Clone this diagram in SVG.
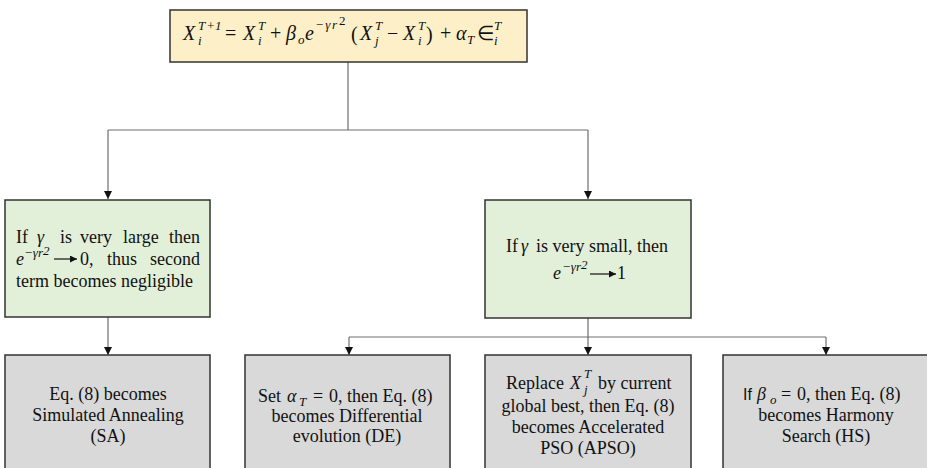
<svg xmlns="http://www.w3.org/2000/svg" width="927" height="468" viewBox="0 0 927 468">
<defs>
<marker id="ah" markerWidth="10" markerHeight="10" refX="8" refY="4" orient="auto" markerUnits="userSpaceOnUse">
<path d="M0,0 L8,4 L0,8 Z" fill="#111"/>
</marker>
<marker id="ta" markerWidth="10" markerHeight="8" refX="7" refY="3.5" orient="auto" markerUnits="userSpaceOnUse">
<path d="M0,0 L7,3.5 L0,7 Z" fill="#111"/>
</marker>
<style>
.box{stroke:#333;stroke-width:1.5}
.y{fill:#fdf0c8}
.g{fill:#e2efd9}
.gr{fill:#d9d9d9}
.t{font-family:"Liberation Serif","Times New Roman",serif;font-size:18px;fill:#111}
.i{font-style:italic}
.m{font-family:"Liberation Serif","Times New Roman",serif;font-style:italic;font-size:20px;fill:#111}
.mr{font-family:"Liberation Serif","Times New Roman",serif;font-size:20px;fill:#111}
.s{font-family:"Liberation Serif","Times New Roman",serif;font-style:italic;font-size:13px;fill:#111}
.sr{font-family:"Liberation Serif","Times New Roman",serif;font-size:13px;fill:#111}
.c{text-anchor:middle}
.conn{stroke:#6e6e6e;stroke-width:1.2;fill:none}
</style>
</defs>

<g id="connectors">
<path class="conn" d="M348,62 V130"/>
<path class="conn" d="M108,130 H588"/>
<path class="conn" d="M108,130 V199" marker-end="url(#ah)"/>
<path class="conn" d="M588,130 V199" marker-end="url(#ah)"/>
<path class="conn" d="M108,317 V355" marker-end="url(#ah)"/>
<path class="conn" d="M588,318 V337"/>
<path class="conn" d="M349,337 H826"/>
<path class="conn" d="M349,337 V355" marker-end="url(#ah)"/>
<path class="conn" d="M588,337 V355" marker-end="url(#ah)"/>
<path class="conn" d="M826,337 V355" marker-end="url(#ah)"/>
</g>

<g id="top">
<rect class="box y" x="170" y="10" width="357" height="52"/>
<text class="m" x="183" y="40">X</text>
<text class="s" x="198" y="45">i</text>
<text class="s" x="198" y="30">T<tspan class="sr" dx="1">+1</tspan></text>
<text class="mr" x="225" y="40">=</text>
<text class="m" x="243" y="40">X</text>
<text class="s" x="258" y="45">i</text>
<text class="s" x="258" y="30">T</text>
<text class="mr" x="270" y="40">+</text>
<text class="m" x="286" y="40">β</text>
<text class="s" x="298" y="44">o</text>
<text class="m" x="305" y="40">e</text>
<text class="s" x="315" y="29" letter-spacing="1.5">−γr</text>
<text class="sr" x="339" y="25" font-size="10">2</text>
<text class="mr" x="351" y="41" font-size="22">(</text>
<text class="m" x="360" y="40">X</text>
<text class="s" x="375" y="45">j</text>
<text class="s" x="375" y="30">T</text>
<text class="mr" x="387" y="40">−</text>
<text class="m" x="403" y="40">X</text>
<text class="s" x="418" y="45">i</text>
<text class="s" x="418" y="30">T</text>
<text class="mr" x="426" y="41" font-size="22">)</text>
<text class="mr" x="440" y="40">+</text>
<text class="m" x="456" y="40">α</text>
<text class="s" x="467" y="44">T</text>
<text class="mr" x="477" y="40" font-size="16">∈</text>
<text class="s" x="494" y="45">i</text>
<text class="s" x="494" y="30">T</text>
</g>

<g id="large">
<rect class="box g" x="5" y="200" width="205" height="117"/>
<text class="t" x="16" y="243">If</text>
<text class="t i" x="37" y="243">γ</text>
<text class="t" x="60" y="243">is</text>
<text class="t" x="80" y="243">very</text>
<text class="t" x="123" y="243">large</text>
<text class="t" x="200" y="243" text-anchor="end">then</text>
<text class="t i" x="16" y="265">e</text>
<text class="s" x="24" y="257">−γr<tspan class="sr" dy="-2" font-size="11">2</tspan></text>
<path d="M54,259 H77" stroke="#111" stroke-width="1.2" marker-end="url(#ta)"/>
<text class="t" x="80" y="265">0,</text>
<text class="t" x="107" y="265">thus</text>
<text class="t" x="200" y="265" text-anchor="end">second</text>
<text class="t" x="16" y="287">term becomes negligible</text>
</g>

<g id="small">
<rect class="box g" x="485" y="200" width="206" height="118"/>
<text class="t" x="506" y="252">If</text>
<text class="t i" x="521" y="252">γ</text>
<text class="t" x="536" y="252">is very small, then</text>
<text class="t i" x="553" y="279">e</text>
<text class="s" x="562" y="271">−γr<tspan class="sr" dy="-2" font-size="11">2</tspan></text>
<path d="M590,274 H616" stroke="#111" stroke-width="1.2" marker-end="url(#ta)"/>
<text class="t" x="617" y="279">1</text>
</g>

<g id="sa">
<rect class="box gr" x="5" y="355" width="205" height="120"/>
<text class="t c" x="108" y="400">Eq. (8) becomes</text>
<text class="t c" x="108" y="421">Simulated Annealing</text>
<text class="t c" x="108" y="442">(SA)</text>
</g>

<g id="de">
<rect class="box gr" x="245" y="355" width="205" height="120"/>
<text class="t" x="258" y="402">Set</text>
<text class="t i" x="287" y="402">α</text>
<text class="s" x="299" y="406" font-size="12">T</text>
<text class="t" x="313" y="402">=</text>
<text class="t" x="329" y="402">0, then Eq. (8)</text>
<text class="t c" x="347" y="422">becomes Differential</text>
<text class="t c" x="347" y="442">evolution (DE)</text>
</g>

<g id="apso">
<rect class="box gr" x="485" y="355" width="206" height="120"/>
<text class="t" x="506" y="389">Replace</text>
<text class="t i" x="570" y="389">X</text>
<text class="s" x="584" y="394">j</text>
<text class="s" x="584" y="378">T</text>
<text class="t" x="598" y="389">by current</text>
<text class="t c" x="588" y="412">global best, then Eq. (8)</text>
<text class="t c" x="588" y="433">becomes Accelerated</text>
<text class="t c" x="588" y="454">PSO (APSO)</text>
</g>

<g id="hs">
<rect class="box gr" x="723" y="355" width="206" height="120"/>
<text x="743" y="400" font-family="Liberation Sans, Arial, sans-serif" font-size="16" fill="#111">If</text>
<text class="t i" x="757" y="400">β</text>
<text class="s" x="770" y="404" font-size="12">o</text>
<text class="t" x="781" y="400">=</text>
<text class="t" x="797" y="400">0, then Eq. (8)</text>
<text class="t c" x="826" y="421">becomes Harmony</text>
<text class="t c" x="826" y="442">Search (HS)</text>
</g>
</svg>
